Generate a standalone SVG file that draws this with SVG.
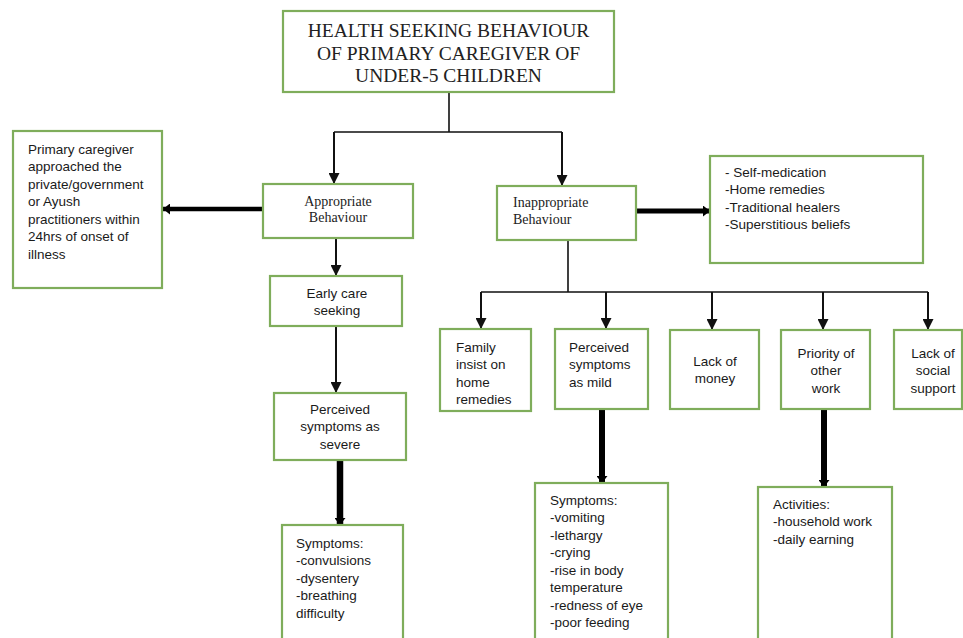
<svg xmlns="http://www.w3.org/2000/svg" width="963" height="638" viewBox="0 0 963 638">
<style>
.box{fill:#fff;stroke:#7fad5b;stroke-width:2.2}
.serif{font-family:"Liberation Serif","Times New Roman",serif;fill:#222}
.sans{font-family:"Liberation Sans",Arial,sans-serif;font-size:13.5px;fill:#1a1a1a}
.thin{stroke:#111;stroke-width:1.6;fill:none}
.arr{stroke:#111;stroke-width:2;fill:none;marker-end:url(#ah)}
.thick{stroke:#000;fill:none;marker-end:url(#ahk)}
</style>
<defs>
<marker id="ah" markerUnits="userSpaceOnUse" markerWidth="12" markerHeight="11" refX="11" refY="5.5" orient="auto"><path d="M0,0 L11,5.5 L0,11 z" fill="#111"/></marker>
<marker id="ahk" markerUnits="userSpaceOnUse" markerWidth="8" markerHeight="11" refX="7" refY="5.5" orient="auto"><path d="M0,0 L7,5.5 L0,11 z" fill="#000"/></marker>
</defs>
<rect width="963" height="638" fill="#fff"/>
<g id="connectors">
<path class="thin" d="M449,92 V132 M334,132 H562"/>
<path class="arr" d="M334,132 V184"/>
<path class="arr" d="M562,132 V186"/>
<path class="thick" stroke-width="4.5" d="M263,209 H163"/>
<path class="arr" d="M336,238 V276"/>
<path class="arr" d="M336,326 V393"/>
<path class="thick" stroke-width="6.5" d="M340,460 V525"/>
<path class="thick" stroke-width="5" d="M637,211 H710"/>
<path class="thin" d="M568,240 V292 M481,292 H928"/>
<path class="arr" d="M481,292 V329"/>
<path class="arr" d="M606,292 V329"/>
<path class="arr" d="M712,292 V330"/>
<path class="arr" d="M823,292 V330"/>
<path class="arr" d="M928,292 V330"/>
<path class="thick" stroke-width="6" d="M602,409 V483"/>
<path class="thick" stroke-width="6" d="M824,410 V487"/>
</g>
<g id="title">
<rect class="box" x="283" y="11" width="331" height="81"/>
<text class="serif" font-size="19.5" text-anchor="middle"><tspan x="448.5" y="37">HEALTH SEEKING BEHAVIOUR</tspan><tspan x="448.5" y="60">OF PRIMARY CAREGIVER OF</tspan><tspan x="448.5" y="82">UNDER-5 CHILDREN</tspan></text>
</g>
<g id="primary-caregiver">
<rect class="box" x="13" y="131" width="149" height="157"/>
<text class="sans"><tspan x="28" y="153.5">Primary caregiver</tspan><tspan x="28" y="171">approached the</tspan><tspan x="28" y="188.5">private/government</tspan><tspan x="28" y="206">or  Ayush</tspan><tspan x="28" y="223.5">practitioners within</tspan><tspan x="28" y="241">24hrs of onset of</tspan><tspan x="28" y="258.5">illness</tspan></text>
</g>
<g id="appropriate">
<rect class="box" x="263" y="184" width="150" height="54"/>
<text class="serif" font-size="14" text-anchor="middle"><tspan x="338" y="206">Appropriate</tspan><tspan x="338" y="222">Behaviour</tspan></text>
</g>
<g id="inappropriate">
<rect class="box" x="497" y="186" width="139" height="54"/>
<text class="serif" font-size="14"><tspan x="513" y="207">Inappropriate</tspan><tspan x="513" y="224">Behaviour</tspan></text>
</g>
<g id="self-medication">
<rect class="box" x="710" y="156" width="213" height="107"/>
<text class="sans"><tspan x="725" y="176.5">- Self-medication</tspan><tspan x="725" y="194">-Home remedies</tspan><tspan x="725" y="211.5">-Traditional healers</tspan><tspan x="725" y="229">-Superstitious beliefs</tspan></text>
</g>
<g id="early-care">
<rect class="box" x="270" y="276" width="132" height="50"/>
<text class="sans" text-anchor="middle"><tspan x="337" y="297.5">Early care</tspan><tspan x="337" y="314.5">seeking</tspan></text>
</g>
<g id="perceived-severe">
<rect class="box" x="274" y="393" width="132" height="67"/>
<text class="sans" text-anchor="middle"><tspan x="340" y="413.5">Perceived</tspan><tspan x="340" y="431">symptoms as</tspan><tspan x="340" y="448.5">severe</tspan></text>
</g>
<g id="symptoms-severe">
<rect class="box" x="282" y="525" width="121" height="120"/>
<text class="sans"><tspan x="296" y="547.5">Symptoms:</tspan><tspan x="296" y="565">-convulsions</tspan><tspan x="296" y="582.5">-dysentery</tspan><tspan x="296" y="600">-breathing</tspan><tspan x="296" y="617.5">difficulty</tspan></text>
</g>
<g id="family">
<rect class="box" x="440" y="329" width="91" height="82"/>
<text class="sans"><tspan x="456" y="351.5">Family</tspan><tspan x="456" y="369">insist on</tspan><tspan x="456" y="386.5">home</tspan><tspan x="456" y="404">remedies</tspan></text>
</g>
<g id="perceived-mild">
<rect class="box" x="555" y="329" width="93" height="80"/>
<text class="sans"><tspan x="569" y="351.5">Perceived</tspan><tspan x="569" y="369">symptoms</tspan><tspan x="569" y="386.5">as mild</tspan></text>
</g>
<g id="lack-money">
<rect class="box" x="670" y="330" width="89" height="79"/>
<text class="sans" text-anchor="middle"><tspan x="715" y="365.5">Lack of</tspan><tspan x="715" y="383">money</tspan></text>
</g>
<g id="priority">
<rect class="box" x="781" y="330" width="89" height="79"/>
<text class="sans" text-anchor="middle"><tspan x="826" y="357.5">Priority of</tspan><tspan x="826" y="375">other</tspan><tspan x="826" y="392.5">work</tspan></text>
</g>
<g id="lack-social">
<rect class="box" x="894" y="330" width="68" height="79"/>
<text class="sans" text-anchor="middle"><tspan x="933" y="357.5">Lack of</tspan><tspan x="933" y="375">social</tspan><tspan x="933" y="392.5">support</tspan></text>
</g>
<g id="symptoms-mild">
<rect class="box" x="535" y="483" width="133" height="162"/>
<text class="sans"><tspan x="550" y="504.5">Symptoms:</tspan><tspan x="550" y="522">-vomiting</tspan><tspan x="550" y="539.5">-lethargy</tspan><tspan x="550" y="557">-crying</tspan><tspan x="550" y="574.5">-rise in body</tspan><tspan x="550" y="592">temperature</tspan><tspan x="550" y="609.5">-redness of eye</tspan><tspan x="550" y="627">-poor feeding</tspan></text>
</g>
<g id="activities">
<rect class="box" x="758" y="487" width="134" height="158"/>
<text class="sans"><tspan x="773" y="508.5">Activities:</tspan><tspan x="773" y="526">-household work</tspan><tspan x="773" y="543.5">-daily earning</tspan></text>
</g>
</svg>
